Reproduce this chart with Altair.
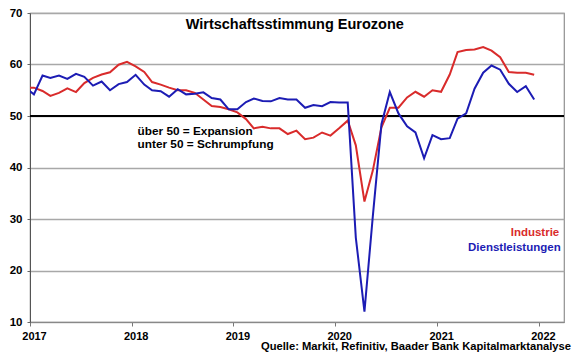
import altair as alt
import pandas as pd

# monthly dates (mid-month), Dec 2016 .. Dec 2021
months = pd.date_range("2016-12-01", "2021-12-01", freq="MS") + pd.Timedelta(days=14)
dates = [d.strftime("%Y-%m-%d") for d in months]

industrie = [
    55.5,
    55.5, 54.85, 53.9, 54.5, 55.35, 54.65, 56.4, 57.4, 58.05, 58.5, 59.96, 60.5,
    59.65, 58.55, 56.6, 56.1, 55.5, 55.0, 55.0, 54.5, 53.2, 51.95, 51.75, 51.3,
    50.7, 49.4, 47.6, 47.9, 47.6, 47.6, 46.5, 47.15, 45.5, 45.8, 46.8, 46.2,
    47.6, 49.1, 44.3, 33.4, 39.4, 47.8, 51.6, 51.6, 53.6, 54.7, 53.75, 55.0,
    54.7, 58.05, 62.4, 62.8, 62.9, 63.4, 62.7, 61.4, 58.55, 58.4, 58.4, 58.0,
]
dienstleistungen = [
    55.5,
    54.2, 57.85, 57.4, 57.85, 57.2, 58.2, 57.6, 55.9, 56.7, 55.0, 56.2, 56.6,
    58.0, 56.1, 55.0, 54.8, 53.75, 55.2, 54.2, 54.3, 54.6, 53.5, 53.2, 51.3,
    51.3, 52.7, 53.4, 52.9, 52.85, 53.5, 53.2, 53.2, 51.6, 52.15, 51.9, 52.7,
    52.6, 52.6, 26.4, 12.0, 30.5, 48.4, 54.65, 50.5, 48.0, 46.8, 41.8, 46.3,
    45.5, 45.7, 49.5, 50.5, 55.3, 58.4, 59.8, 59.0, 56.25, 54.65, 55.8, 53.2,
]
series_names = ["Industrie", "Dienstleistungen"]
series_colors = ["#d92b2b", "#1c1cb4"]
year_ticks = [2017, 2018, 2019, 2020, 2021, 2022]
y_ticks = [10, 20, 30, 40, 50, 60, 70]

df = pd.DataFrame(
    {
        "date": dates * 2,
        "value": industrie + dienstleistungen,
        "series": [series_names[0]] * len(dates) + [series_names[1]] * len(dates),
    }
)

FONT = "Liberation Sans"

x_scale = alt.Scale(
    type="utc",
    domain=[
        alt.DateTime(year=2017, month=1, date=1, utc=True),
        alt.DateTime(year=2022, month=4, date=1, utc=True),
    ],
)
y_scale = alt.Scale(domain=[10, 70], nice=False)

x_axis = alt.Axis(
    values=[alt.DateTime(year=y, month=1, date=1, utc=True) for y in year_ticks],
    format="%Y",
    formatType="utc",
    title=None,
    grid=False,
    tickSize=4,
    tickColor="#777777",
    domainColor="#888888",
    labelFont=FONT,
    labelFontSize=11,
    labelFontWeight="bold",
    labelColor="#000000",
    labelPadding=4,
    labelOffset=4,
    labelFlush=False,
    labelOverlap=False,
)
y_axis = alt.Axis(
    values=y_ticks,
    title=None,
    grid=True,
    gridColor="#a8a8a8",
    gridWidth=1.3,
    tickSize=3,
    tickColor="#666666",
    domainColor="#555555",
    labelFont=FONT,
    labelFontSize=11.5,
    labelFontWeight="bold",
    labelColor="#000000",
    labelPadding=5,
)

base_x = alt.X("date:T", scale=x_scale, axis=x_axis)
base_y = alt.Y("value:Q", scale=y_scale, axis=y_axis)

lines = (
    alt.Chart(df)
    .mark_line(strokeWidth=2, clip=True)
    .encode(
        x=base_x,
        y=base_y,
        color=alt.Color(
            "series:N",
            scale=alt.Scale(domain=series_names, range=series_colors),
            legend=None,
        ),
        detail="series:N",
    )
)

rule50 = (
    alt.Chart(pd.DataFrame({"value": [50]}))
    .mark_rule(color="#000000", strokeWidth=2.2)
    .encode(y=alt.Y("value:Q", scale=y_scale))
)

title_df = pd.DataFrame(
    {"date": ["2019-08-09"], "value": [67.6], "label": ["Wirtschaftsstimmung Eurozone"]}
)
title_txt = (
    alt.Chart(title_df)
    .mark_text(font=FONT, fontSize=14.5, fontWeight="bold", color="#000000",
               align="center", baseline="middle")
    .encode(x=alt.X("date:T", scale=x_scale), y=alt.Y("value:Q", scale=y_scale), text="label:N")
)

note_df = pd.DataFrame(
    {
        "date": ["2018-01-22", "2018-01-22"],
        "value": [47.1, 44.6],
        "label": ["über 50 = Expansion", "unter 50 = Schrumpfung"],
    }
)
note_txt = (
    alt.Chart(note_df)
    .mark_text(font=FONT, fontSize=11.8, fontWeight="bold", color="#000000",
               align="left", baseline="middle")
    .encode(x=alt.X("date:T", scale=x_scale), y=alt.Y("value:Q", scale=y_scale), text="label:N")
)

leg_df = pd.DataFrame(
    {
        "date": ["2022-03-15", "2022-03-20"],
        "value": [27.3, 24.4],
        "label": series_names,
    }
)
leg_txt = (
    alt.Chart(leg_df)
    .mark_text(font=FONT, fontSize=11.5, fontWeight="bold", align="right", baseline="middle", clip=False)
    .encode(
        x=alt.X("date:T", scale=x_scale),
        y=alt.Y("value:Q", scale=y_scale),
        text="label:N",
        color=alt.Color("label:N", scale=alt.Scale(domain=series_names, range=series_colors), legend=None),
    )
)

source_txt = (
    alt.Chart(pd.DataFrame({"label": ["Quelle: Markit, Refinitiv, Baader Bank Kapitalmarktanalyse"]}))
    .mark_text(font=FONT, fontSize=11.2, fontWeight="bold", color="#000000",
               align="right", baseline="middle")
    .encode(x=alt.value(541), y=alt.value(334), text="label:N")
)

chart = (
    alt.layer(rule50, lines, title_txt, note_txt, leg_txt, source_txt)
    .properties(
        width=534,
        height=309,
        autosize=alt.AutoSizeParams(type="none"),
        padding={"left": 22, "top": 5, "right": 8, "bottom": 37},
        background="#ffffff",
    )
    .configure_view(stroke="#909090", strokeWidth=1.2)
)

chart.save("out.html", embed_options={"renderer": "svg", "actions": False})
